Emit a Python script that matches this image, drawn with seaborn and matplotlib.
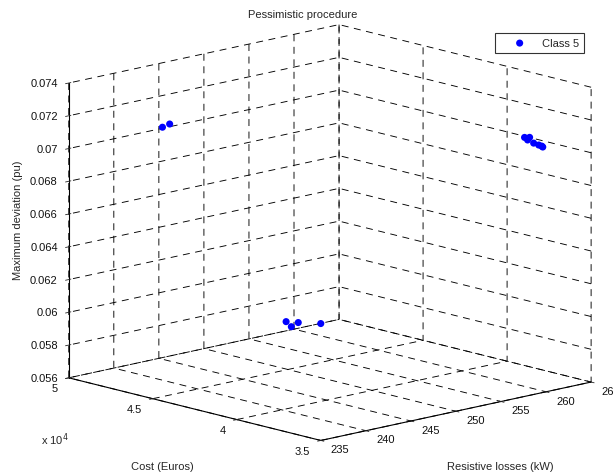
import numpy as np
import pandas as pd
import matplotlib
matplotlib.use("Agg")
import matplotlib.pyplot as plt
import seaborn as sns
from matplotlib.ticker import NullFormatter

# ---- data ----
cost = [48500, 48500,
        38156, 37856, 37976, 37615, 37313, 37133, 37073,
        45055, 44261, 44600, 43850]
losses = [242.6, 243.4,
          263.5, 263.5, 263.5, 263.5, 263.5, 263.5, 263.5,
          249.9, 249.0, 250.4, 251.5]
deviation = [0.07078, 0.07088,
             0.07031, 0.07039, 0.07020, 0.07010, 0.07006, 0.07004, 0.07000,
             0.05892, 0.05892, 0.05892, 0.05892]

cost_ticks = [35000, 40000, 45000, 50000]
cost_labels = ["3.5", "4", "4.5", "5"]
loss_ticks = [235, 240, 245, 250, 255, 260, 265]
loss_labels = ["235", "240", "245", "250", "255", "260", "265"]
dev_ticks = [0.056, 0.058, 0.06, 0.062, 0.064, 0.066, 0.068, 0.07, 0.072, 0.074]
dev_labels = ["0.056", "0.058", "0.06", "0.062", "0.064", "0.066", "0.068",
              "0.07", "0.072", "0.074"]

df = pd.DataFrame({"cost": cost, "losses": losses, "deviation": deviation,
                   "cls": "Class 5"})

sns.set_theme(style="white")
plt.rcParams['font.family'] = ['Liberation Sans', 'DejaVu Sans']
plt.rcParams['font.size'] = 8
plt.rcParams['lines.scale_dashes'] = False

fig = plt.figure(figsize=(6.13, 4.77), dpi=100)
ax = fig.add_axes([0.0469, -0.1210, 0.9568, 1.2296], projection='3d', proj_type='ortho')
ax.view_init(elev=13.4, azim=-43.0)
ax.set_box_aspect((1, 1, 0.82))

color = sns.color_palette(["#0000ff"])[0]
ax.scatter(df["cost"], df["losses"], df["deviation"], color=color, s=26,
           depthshade=False, label="Class 5", edgecolors='none')

xlo, xhi = 50000, 35000
ylo, yhi = 235, 265
zlo, zhi = 0.056, 0.074
ax.set_xlim(xlo, xhi)
ax.set_ylim(ylo, yhi)
ax.set_zlim(zlo, zhi)
ax.set_xticks(cost_ticks)
ax.set_yticks(loss_ticks)
ax.set_zticks(dev_ticks)
for axis in (ax.xaxis, ax.yaxis, ax.zaxis):
    axis.set_major_formatter(NullFormatter())
ax.zaxis.set_ticks_position('lower')

for axis in (ax.xaxis, ax.yaxis, ax.zaxis):
    axis.set_pane_color((1, 1, 1, 0))
    axis.pane.set_edgecolor((1, 1, 1, 0))
    axis.line.set_color('black')
    axis.line.set_linewidth(0.8)
    axis._axinfo['grid'].update(color='black', linewidth=0.65,
                                linestyle=(0, (5, 4)))
    axis._axinfo['tick'].update(inward_factor=0.15, outward_factor=0.1)
    axis._axinfo['tick']['linewidth'] = {True: 0.6, False: 0.5}
    axis._axinfo['tick']['color'] = 'black'
ax.grid(True)

# tick labels placed in data coordinates just outside the box edges
dx = (xhi - xlo)
dy = (yhi - ylo)
dz = (zhi - zlo)
for v, s in zip(cost_ticks, cost_labels):
    ax.text(v, ylo - 0.0404 * dy, zlo - 0.0262 * dz, s, ha='right', va='center',
            fontsize=8, color='#111111')
for v, s in zip(loss_ticks, loss_labels):
    ax.text(xhi + 0.0400 * dx, v, zlo - 0.0211 * dz, s, ha='left', va='center',
            fontsize=8, color='#111111')
for v, s in zip(dev_ticks, dev_labels):
    ax.text(xlo, ylo - 0.0404 * dy, v + 0.0077 * dz, s, ha='right', va='center',
            fontsize=8, color='#111111')

fig.text(303/613, 1 - 15/477, "Pessimistic procedure", ha='center', va='center', fontsize=8)
fig.text(18/613, 1 - 220/477, "Maximum deviation (pu)", rotation=90, ha='center', va='center', fontsize=8)
fig.text(162/613, 1 - 467/477, "Cost (Euros)", ha='center', va='center', fontsize=8)
fig.text(500/613, 1 - 467/477, "Resistive losses (kW)", ha='center', va='center', fontsize=8)
fig.text(55/613, 1 - 440/477, r"x 10$^{4}$", ha='center', va='center', fontsize=8)

leg = fig.legend(loc='upper right', bbox_to_anchor=(584/613, 1 - 34/477),
                 frameon=True, fancybox=False, fontsize=8, handletextpad=0.2,
                 borderpad=0.45, handlelength=3.6, borderaxespad=0)
leg.get_frame().set_edgecolor('black')
leg.get_frame().set_linewidth(0.8)

fig.savefig("out.png", dpi=100)
